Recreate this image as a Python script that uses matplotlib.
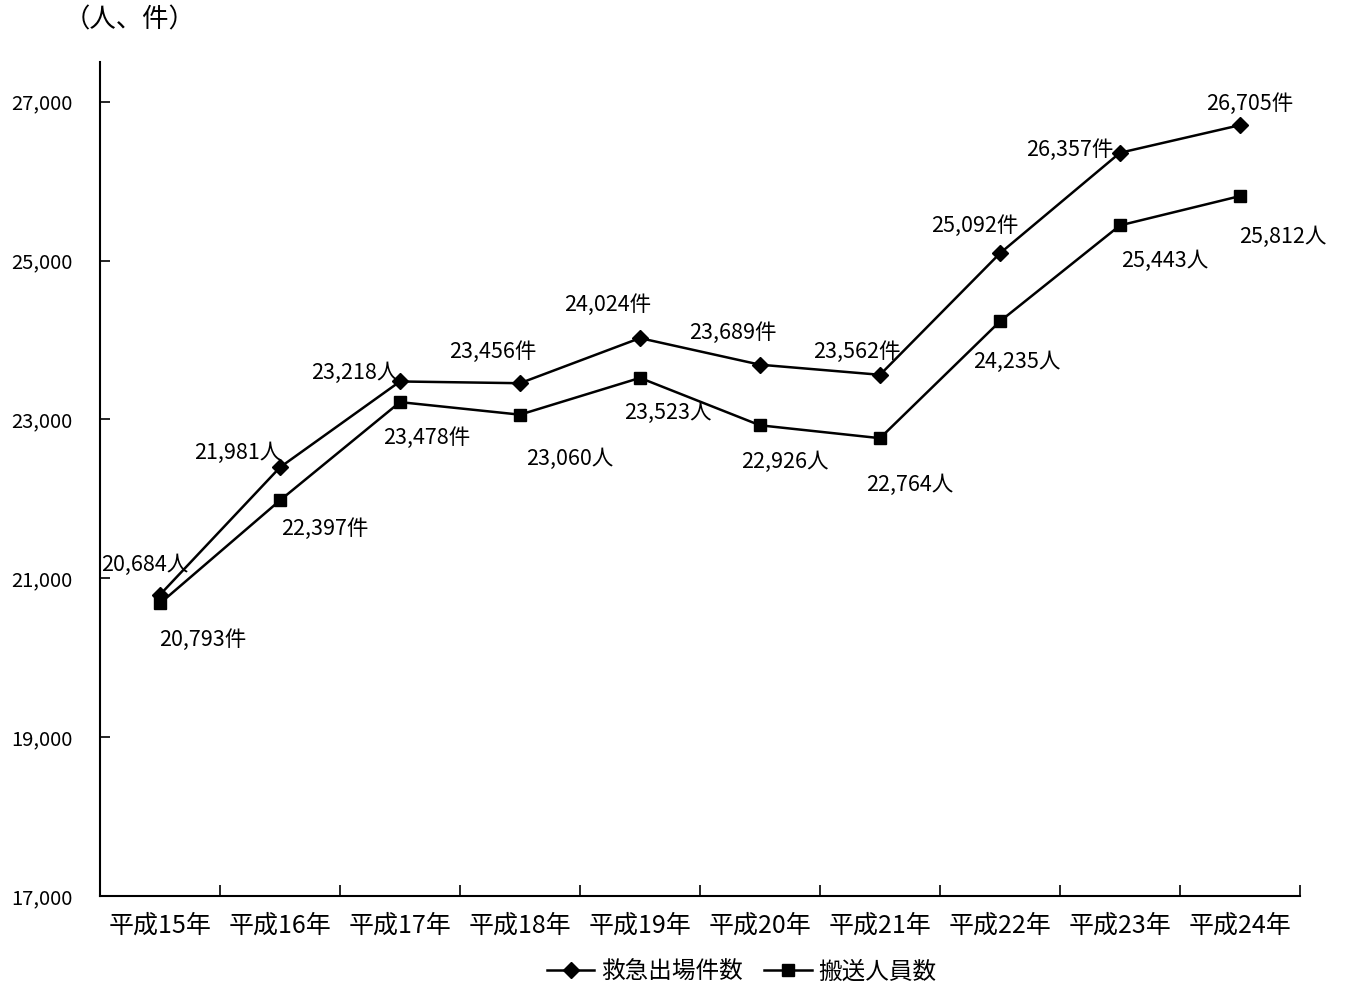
import matplotlib
matplotlib.use("Agg")
import matplotlib.pyplot as plt
from matplotlib.ticker import FuncFormatter, FixedLocator

plt.rcParams['font.family'] = ['Noto Sans CJK JP', 'DejaVu Sans']

years = ["平成15年", "平成16年", "平成17年", "平成18年", "平成19年",
         "平成20年", "平成21年", "平成22年", "平成23年", "平成24年"]
dispatches = [20793, 22397, 23478, 23456, 24024, 23689, 23562, 25092, 26357, 26705]
transported = [20684, 21981, 23218, 23060, 23523, 22926, 22764, 24235, 25443, 25812]
y_ticks = [17000, 19000, 21000, 23000, 25000, 27000]

# label offsets in pixels from each point (layout only)
disp_off = [(43, -45), (45, -62), (27, -56), (-27, 31), (-32, 33),
            (-27, 32), (-23, 23), (-25, 27), (-50, 3), (10, 21)]
trans_off = [(-15, 38), (-42, 47), (-45, 29), (50, -44), (28, -35),
             (25, -37), (30, -47), (17, -41), (45, -36), (43, -41)]

fig = plt.figure(figsize=(13.45, 9.89), dpi=100)
ax = fig.add_axes([100 / 1345, 1 - 896 / 989, 1200 / 1345, (896 - 62) / 989])

x = list(range(len(years)))
ax.plot(x, dispatches, color='black', lw=1.8, marker='D', ms=8, label="救急出場件数")
ax.plot(x, transported, color='black', lw=1.8, marker='s', ms=9, label="搬送人員数")

for i in x:
    ax.annotate(f"{dispatches[i]:,}件", (i, dispatches[i]), xytext=disp_off[i],
                textcoords='offset pixels', ha='center', va='center', fontsize=15.5)
    ax.annotate(f"{transported[i]:,}人", (i, transported[i]), xytext=trans_off[i],
                textcoords='offset pixels', ha='center', va='center', fontsize=15.5)

ax.set_xlim(-0.5, len(years) - 0.5)
ax.set_ylim(17000, 27500)
ax.set_xticks(x)
ax.set_xticklabels(years, fontsize=18)
ax.xaxis.set_minor_locator(FixedLocator([i + 0.5 for i in x]))
ax.tick_params(axis='x', which='major', length=0, pad=12)
ax.tick_params(axis='x', which='minor', direction='in', length=8, width=1.2)
ax.set_yticks(y_ticks)
ax.yaxis.set_major_formatter(FuncFormatter(lambda v, p: f"{int(v):,}"))
ax.tick_params(axis='y', direction='in', length=7, width=1.2, labelsize=14.5, pad=20)

for s in ['top', 'right']:
    ax.spines[s].set_visible(False)
for s in ['left', 'bottom']:
    ax.spines[s].set_linewidth(1.5)

fig.text(130 / 1345, 1 - 20 / 989, "（人、件）", ha='center', va='center', fontsize=19)

fig.legend(loc='center', bbox_to_anchor=(742 / 1345, 1 - 972 / 989), ncol=2,
           frameon=False, fontsize=17, handlelength=2.0, columnspacing=0.9,
           handletextpad=0.3)

fig.savefig("out.png", dpi=100, facecolor='white')
